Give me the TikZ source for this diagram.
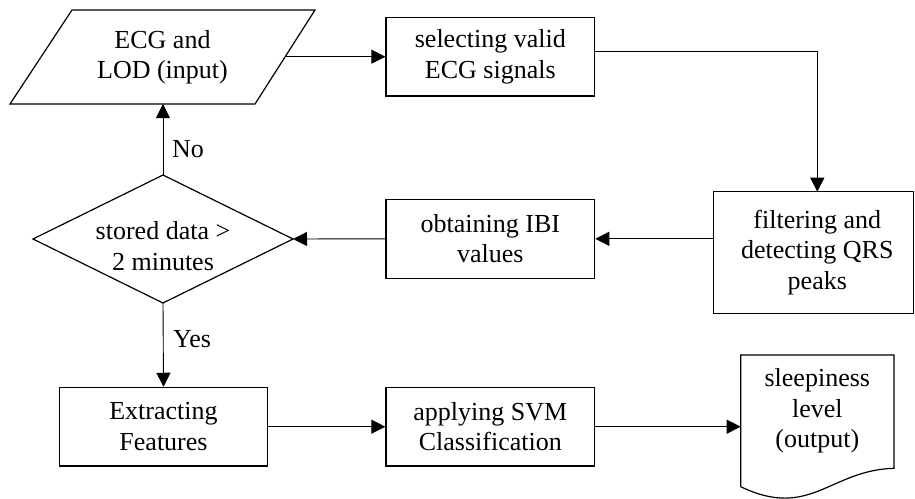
\documentclass[tikz,border=0pt]{standalone}
\usepackage{fontspec}
\setmainfont{Liberation Serif}
\usetikzlibrary{arrows.meta}
\begin{document}
\begin{tikzpicture}[x=1pt,y=-1pt,
  every node/.style={font=\fontsize{26}{30.5}\selectfont},
  procbox/.style={draw, line width=1.2pt, align=center, inner sep=0pt},
  txt/.style={align=center, inner sep=0pt},
  conn/.style={line width=0.9pt, -{Triangle[length=14pt,width=14pt]}},
  shapeline/.style={line width=1.2pt, line join=miter},
]
\useasboundingbox (0,0) rectangle (915,498);

% input parallelogram
\draw[shapeline] (72,10) -- (315,10) -- (255,104) -- (10,104) -- cycle;
\node[txt] (in) at (162.5,57) {ECG and\\LOD (input)};
\coordinate (inR) at (285.6,56.7);
\coordinate (inB) at (163,104);

% process boxes
\node[procbox, minimum width=208.7pt, minimum height=78.7pt] (sel) at (490.3,56.7) {selecting valid\\ECG signals};
\node[procbox, minimum width=200pt, minimum height=121.6pt] (filt) at (813.3,252.5) {\hspace*{8pt}filtering and\\\hspace*{8pt}detecting QRS\\\hspace*{8pt}peaks};
\coordinate (filtIn) at (817.3,191.7);
\node[procbox, minimum width=208.7pt, minimum height=79pt] (ibi) at (490.3,238.8) {obtaining IBI\\values};
\node[procbox, minimum width=208.4pt, minimum height=78.7pt] (ext) at (163.5,426.7) {Extracting\\Features};
\node[procbox, minimum width=208.7pt, minimum height=78.7pt] (svm) at (490.3,426.7) {applying SVM\\Classification};

% decision diamond
\draw[shapeline] (33,239) -- (163,175) -- (293,239) -- (163,303) -- cycle;
\node[txt] (dec) at (163,246) {stored data >\\2 minutes};
\coordinate (dT) at (163,175);
\coordinate (dB) at (163,303);
\coordinate (dR) at (293,239);

% output document
\draw[shapeline] (740.7,486.7) -- (740.7,355) -- (894,355) -- (894,468.3)
  .. controls (830,470) and (810,520) .. (740.7,486.7);
\node[txt] (doc) at (817.3,411) {sleepiness\\level\\(output)};
\coordinate (docW) at (740.7,426.7);

% connectors
\draw[conn] (inR) -- (sel.west);
\draw[conn] ([yshift=5pt]sel.east) -| (filtIn);
\draw[conn] (filt.west |- ibi.east) -- (ibi.east);
\draw[conn] (ibi.west) -- (dR);
\draw[conn] (dT) -- (inB);
\draw[conn] (dB) -- (ext.north);
\draw[conn] (ext.east) -- (svm.west);
\draw[conn] (svm.east) -- (docW);

% labels
\node[anchor=base west, inner sep=0pt] (no) at (172,157) {No};
\node[anchor=base west, inner sep=0pt] (yes) at (173,347) {Yes};
\end{tikzpicture}
\end{document}
